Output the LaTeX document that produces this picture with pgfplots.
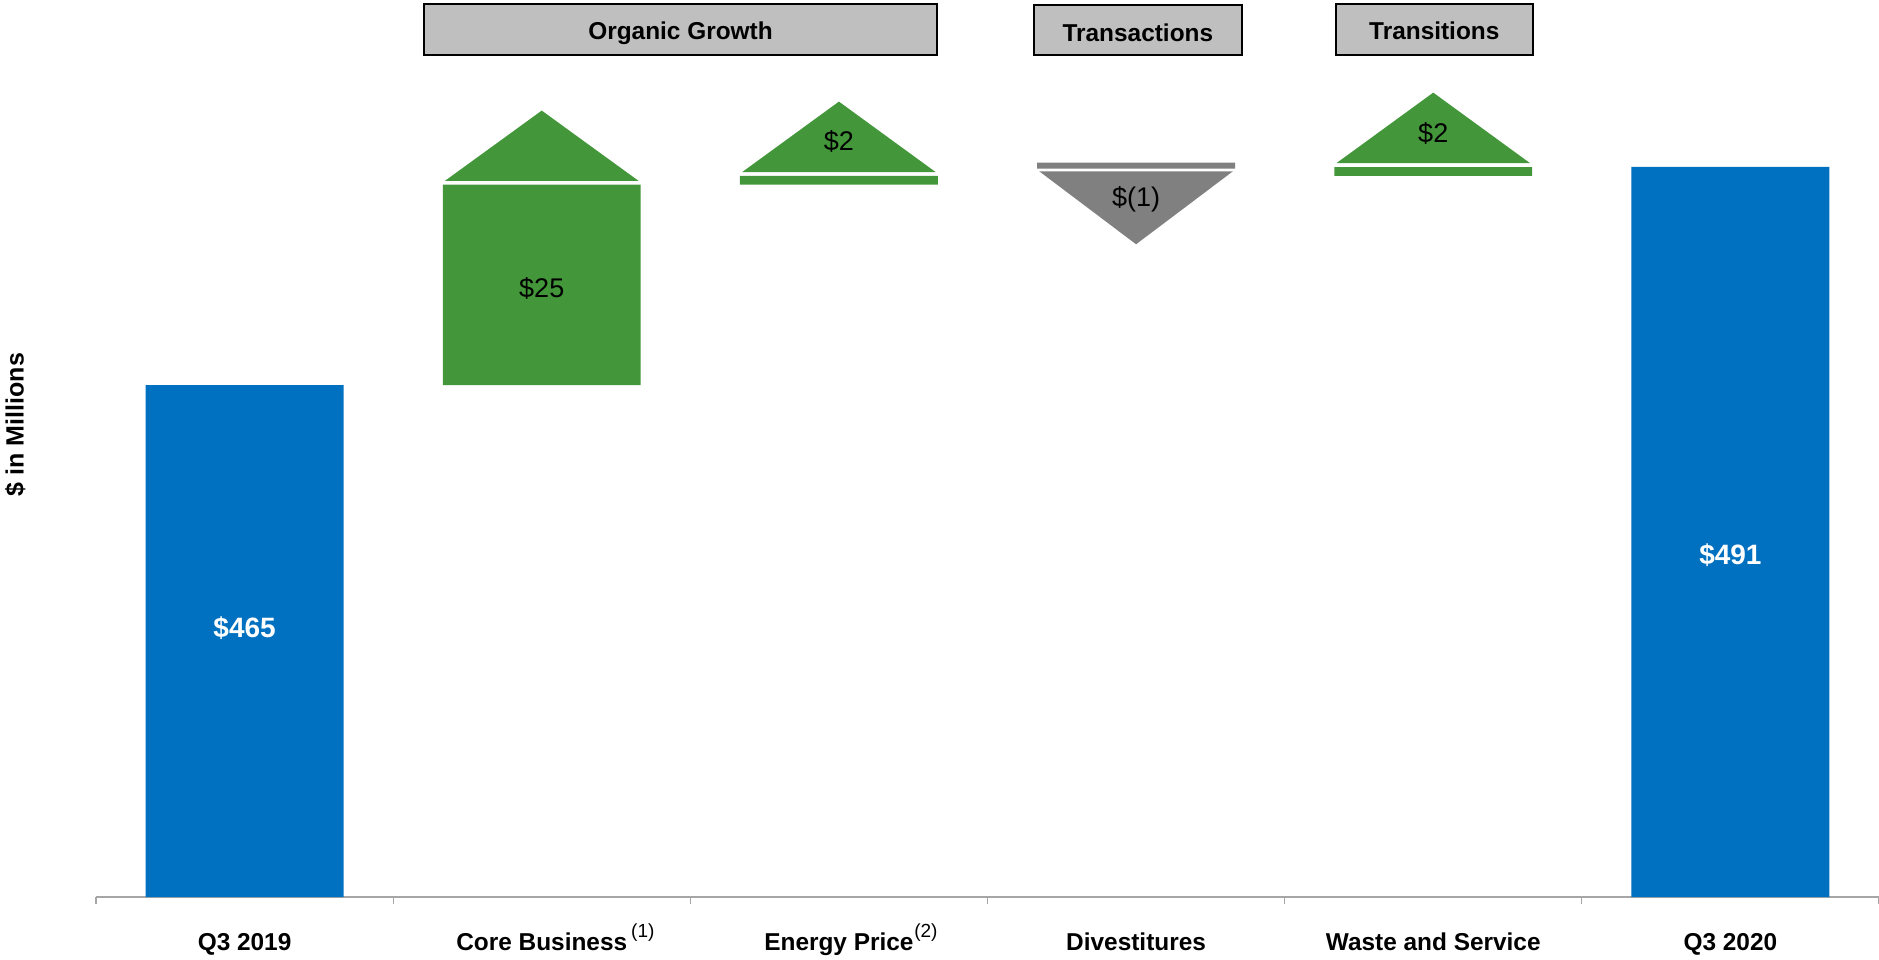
\documentclass[border=0pt]{standalone}
\usepackage{fontspec}
\setmainfont{Liberation Sans}
\usepackage{pgfplots}
\pgfplotsset{compat=1.18}
\definecolor{wfblue}{RGB}{0,112,192}
\definecolor{wfgreen}{RGB}{67,151,58}
\definecolor{wfgray}{RGB}{128,128,128}
\definecolor{boxgray}{RGB}{191,191,191}
\definecolor{axgray}{RGB}{166,166,166}
\newcommand{\fnote}[2]{\rlap{\kern#1\raisebox{6.3pt}{\mdseries\fontsize{9.5}{10}\selectfont(#2)}}}
\begin{document}
\begin{tikzpicture}
\useasboundingbox (-48pt,-31pt) rectangle (891.5pt,448.5pt);
\begin{axis}[
	scale only axis,
	width=891.5pt,height=448.5pt,
	xmin=-0.5,xmax=5.5,ymin=404,ymax=510.9,
	axis x line=bottom,axis y line=none,
	axis line style={draw=axgray,line width=0.7pt,-},
	xtick={0,...,5},
	minor xtick={-0.5,0.5,...,5.5},
	major tick length=0pt,minor tick length=3.5pt,
	tick align=outside,
	tick style={draw=axgray,line width=0.6pt},
	ytick=\empty,
	xticklabels={Q3 2019,Core Business\fnote{2pt}{1},Energy Price\fnote{0.4pt}{2},Divestitures,Waste and Service,Q3 2020},
	xticklabel style={anchor=base,yshift=-26.7pt,font=\fontsize{12.2}{14}\selectfont\bfseries},
	clip=false]
% totals
\addplot[fill=wfblue,draw=none] coordinates {(-0.333,404) (0.333,404) (0.333,465) (-0.333,465) (-0.333,404)};
\addplot[fill=wfblue,draw=none] coordinates {(4.667,404) (5.333,404) (5.333,491.0) (4.667,491.0) (4.667,404)};
% steps
\addplot[fill=wfgreen,draw=none] coordinates {(0.667,465) (1.333,465) (1.333,488.9) (0.667,488.9) (0.667,465)};
\addplot[fill=wfgreen,draw=none] coordinates {(1.667,488.9) (2.333,488.9) (2.333,489.93) (1.667,489.93) (1.667,488.9)};
\addplot[fill=wfgray,draw=none] coordinates {(2.667,490.80) (3.333,490.80) (3.333,491.52) (2.667,491.52) (2.667,490.80)};
\addplot[fill=wfgreen,draw=none] coordinates {(3.667,489.93) (4.333,489.93) (4.333,490.97) (3.667,490.97) (3.667,489.93)};
% arrows
\addplot[fill=wfgreen,draw=none] coordinates {(0.674,489.34) (1.326,489.34) (1,497.72) (0.674,489.34)};
\addplot[fill=wfgreen,draw=none] coordinates {(1.674,490.38) (2.326,490.38) (2,498.79) (1.674,490.38)};
\addplot[fill=wfgray,draw=none] coordinates {(2.674,490.49) (3.326,490.49) (3,481.79) (2.674,490.49)};
\addplot[fill=wfgreen,draw=none] coordinates {(3.674,491.45) (4.326,491.45) (4,499.86) (3.674,491.45)};
% value labels
\node[text=white,font=\fontsize{14}{16}\selectfont\bfseries] at (axis cs:0,436.06) {\$465};
\node[text=white,font=\fontsize{14}{16}\selectfont\bfseries] at (axis cs:5,444.76) {\$491};
\node[font=\fontsize{13.5}{15}\selectfont] at (axis cs:1,476.47) {\$25};
\node[font=\fontsize{13.5}{15}\selectfont] at (axis cs:2,494.02) {\$2};
\node[font=\fontsize{13.5}{15}\selectfont] at (axis cs:3,487.2) {\$(1)};
\node[font=\fontsize{13.5}{15}\selectfont] at (axis cs:4,495.02) {\$2};
% group boxes
\draw[fill=boxgray,line width=1pt] (axis cs:0.604,510.43) rectangle (axis cs:2.330,504.4);
\node[font=\fontsize{12.2}{14}\selectfont\bfseries] at (axis cs:1.467,506.9) {Organic Growth};
\draw[fill=boxgray,line width=1pt] (axis cs:2.656,510.3) rectangle (axis cs:3.356,504.4);
\node[font=\fontsize{12.2}{14}\selectfont\bfseries] at (axis cs:3.006,507.0) {Transactions};
\draw[fill=boxgray,line width=1pt] (axis cs:3.672,510.43) rectangle (axis cs:4.335,504.4);
\node[font=\fontsize{12.2}{14}\selectfont\bfseries] at (axis cs:4.0035,507.2) {Transitions};
% axis title
\node[rotate=90,font=\fontsize{12.5}{14}\selectfont\bfseries] at (axis cs:-0.772,460.3) {\$ in Millions};
\end{axis}
\end{tikzpicture}
\end{document}
